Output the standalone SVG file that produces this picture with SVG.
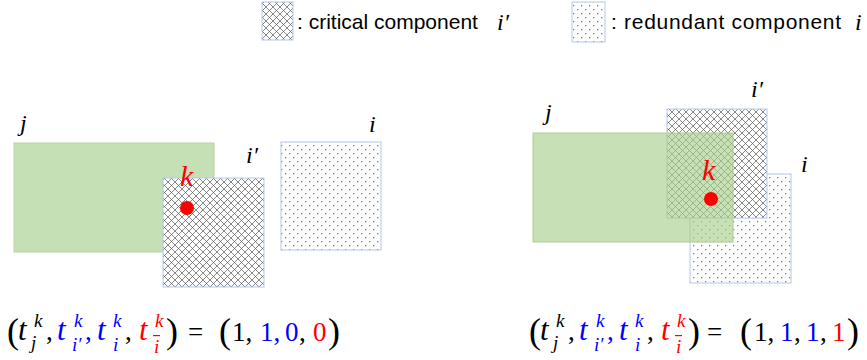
<svg xmlns="http://www.w3.org/2000/svg" width="867" height="360" viewBox="0 0 867 360">
<defs>
<pattern id="cross" patternUnits="userSpaceOnUse" width="7" height="7">
<rect width="7" height="7" fill="#ffffff"/>
<path d="M0 0L7 7M7 0L0 7M-1 6L1 8M6 -1L8 1M-1 1L1 -1M6 8L8 6" stroke="#555555" stroke-width="0.7" fill="none"/>
</pattern>
<pattern id="dots" patternUnits="userSpaceOnUse" width="8" height="8">
<rect width="8" height="8" fill="#ffffff"/>
<rect x="1" y="1" width="1.3" height="1.3" fill="#808080"/>
<rect x="5" y="5" width="1.3" height="1.3" fill="#808080"/>
</pattern>
</defs>
<style>
.cross{fill:url(#cross);stroke:#b4c7e7;stroke-width:1}
.dots{fill:url(#dots);stroke:#b4c7e7;stroke-width:1}
.green{fill:#c5e0b4;stroke:#b5d3a0;stroke-width:1}
.greenT{fill:#a9d08e;fill-opacity:0.65;stroke:#a9d08e;stroke-width:1}
.lg{font-family:"Liberation Sans",Arial,sans-serif;font-size:21px;fill:#000}
.lab{font-family:"Liberation Serif","Times New Roman",serif;font-style:italic;font-size:24px;fill:#000}
.kk{font-family:"Liberation Serif","Times New Roman",serif;font-style:italic;font-size:30px;fill:#ff0000}
.m{font-family:"Liberation Serif","Times New Roman",serif;font-size:27px}
.mi{font-family:"Liberation Serif","Times New Roman",serif;font-style:italic;font-size:31px}
.sup{font-family:"Liberation Serif","Times New Roman",serif;font-style:italic;font-size:19px}
.par{font-family:"Liberation Serif","Times New Roman",serif;font-size:36px}
.bk{fill:#000}
.bl{fill:#0000ff}
.rd{fill:#ff0000}
</style>

<g id="legend">
<rect class="cross" x="262" y="2" width="31" height="38"/>
<text class="lg" x="297" y="29">: critical component</text>
<text class="lab" x="497" y="30">i′</text>
<rect class="dots" x="572" y="2" width="33" height="40"/>
<text class="lg" x="611" y="29" textLength="230">: redundant component</text>
<text class="lab" x="855" y="30">i</text>
</g>

<g id="left-diagram">
<g id="left-j">
<rect class="green" x="14" y="143" width="200" height="109"/>
<text class="lab" x="20" y="131">j</text>
</g>
<g id="left-iprime">
<rect class="cross" x="163" y="178" width="101" height="109"/>
<text class="lab" x="246" y="163">i′</text>
</g>
<g id="left-i">
<rect class="dots" x="281" y="142" width="100" height="108"/>
<text class="lab" x="369" y="132">i</text>
</g>
<g id="left-k">
<text class="kk" x="180" y="186">k</text>
<circle cx="187" cy="208" r="7" fill="#ff0000"/>
</g>
</g>

<g id="right-diagram">
<g id="right-i">
<rect class="dots" x="690" y="174" width="101" height="109"/>
<text class="lab" x="801" y="172">i</text>
</g>
<g id="right-iprime">
<rect class="cross" x="667" y="109" width="100" height="109"/>
<text class="lab" x="751" y="97">i′</text>
</g>
<g id="right-j">
<rect class="greenT" x="533" y="133" width="200" height="109"/>
<text class="lab" x="545" y="120">j</text>
</g>
<g id="right-k">
<text class="kk" x="702" y="180">k</text>
<circle cx="711" cy="199" r="7" fill="#ff0000"/>
</g>
</g>

<g id="left-formula">
<text class="par bk" x="7" y="343">(</text>
<text class="mi bk" x="18" y="340">t</text>
<text class="sup bk" x="34" y="327">k</text>
<text class="sup bk" x="31" y="349">j</text>
<text class="m bk" x="46" y="340">,</text>
<text class="mi bl" x="57" y="340">t</text>
<text class="sup bl" x="74" y="327">k</text>
<text class="sup bl" x="72" y="351">i′</text>
<text class="m bl" x="85" y="340">,</text>
<text class="mi bl" x="97" y="340">t</text>
<text class="sup bl" x="113" y="327">k</text>
<text class="sup bl" x="113" y="351">i</text>
<text class="m bk" x="125" y="340">,</text>
<text class="mi rd" x="139" y="340">t</text>
<text class="sup rd" x="155" y="327">k</text>
<text class="sup rd" x="154" y="353">i</text>
<rect x="153" y="335" width="7" height="1.2" fill="#ff0000"/>
<text class="par bk" x="166" y="343">)</text>
<text class="m bk" x="188" y="341">=</text>
<text class="par bk" x="219" y="343">(</text>
<text class="m bk" x="232" y="341">1,</text>
<text class="m bl" x="260" y="341">1,</text>
<text class="m bl" x="285" y="341">0</text>
<text class="m bk" x="299" y="341">,</text>
<text class="m rd" x="313" y="341">0</text>
<text class="par bk" x="328" y="343">)</text>
</g>

<g id="right-formula">
<text class="par bk" x="529" y="343">(</text>
<text class="mi bk" x="540" y="340">t</text>
<text class="sup bk" x="556" y="327">k</text>
<text class="sup bk" x="553" y="349">j</text>
<text class="m bk" x="568" y="340">,</text>
<text class="mi bl" x="579" y="340">t</text>
<text class="sup bl" x="596" y="327">k</text>
<text class="sup bl" x="594" y="351">i′</text>
<text class="m bl" x="607" y="340">,</text>
<text class="mi bl" x="619" y="340">t</text>
<text class="sup bl" x="635" y="327">k</text>
<text class="sup bl" x="635" y="351">i</text>
<text class="m bk" x="647" y="340">,</text>
<text class="mi rd" x="661" y="340">t</text>
<text class="sup rd" x="677" y="327">k</text>
<text class="sup rd" x="676" y="353">i</text>
<rect x="675" y="335" width="7" height="1.2" fill="#ff0000"/>
<text class="par bk" x="688" y="343">)</text>
<text class="m bk" x="707" y="341">=</text>
<text class="par bk" x="740" y="343">(</text>
<text class="m bk" x="754" y="341">1,</text>
<text class="m bl" x="780" y="341">1</text>
<text class="m bk" x="794" y="341">,</text>
<text class="m bl" x="806" y="341">1</text>
<text class="m bk" x="820" y="341">,</text>
<text class="m rd" x="832" y="341">1</text>
<text class="par bk" x="847" y="343">)</text>
</g>
</svg>
